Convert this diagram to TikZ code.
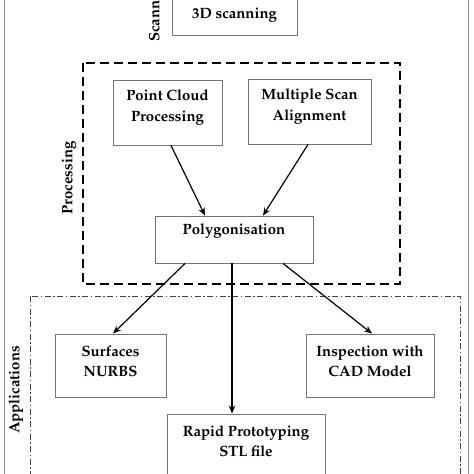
\documentclass[tikz,border=0pt]{standalone}
\usepackage[T1]{fontenc}
\usepackage{mathpazo}
\usetikzlibrary{arrows.meta}
\begin{document}
\begin{tikzpicture}[x=1pt,y=-1pt,
  box/.style={draw=black!55, line width=0.9pt, fill=white, inner sep=0pt},
  txt/.style={align=center, font=\bfseries\fontsize{14.9}{20.5}\selectfont, inner sep=0pt},
  lab/.style={rotate=90, font=\bfseries\fontsize{14.9}{17}\selectfont, inner sep=0pt},
  arr/.style={-{Stealth[length=8pt,width=6.5pt]}, line width=1.2pt},
  grp/.style={draw, line width=1.8pt, dash pattern=on 9pt off 5pt},
  app/.style={draw=black!75, line width=0.8pt, dash pattern=on 6pt off 2.5pt on 1.5pt off 2.5pt}]
\useasboundingbox (0,0) rectangle (474,474);
\clip (0,0) rectangle (474,474);
% outer frame
\draw[black!45, line width=1pt] (4,-10) rectangle (468,490);
% group frames
\draw[grp] (83,63) rectangle (400,284);
\draw[app] (30,296) rectangle (460,495);
% group labels
\node[lab, anchor=west] (lscan) at (156,42) {Scanning};
\node[lab] (lproc) at (69,178) {Processing};
\node[lab] (lapp) at (16,390) {Applications};
% boxes
\node[box, minimum width=125, minimum height=70] (scan) at (234.5,0) {};
\node[txt] (tscan) at (234.5,15) {3D scanning};
\node[box, minimum width=109, minimum height=65] (pc) at (167.5,112.5) {};
\node[txt] (tpc) at (167.5,107.5) {Point Cloud\\Processing};
\node[box, minimum width=123, minimum height=65] (ms) at (309.5,111.5) {};
\node[txt] (tms) at (309.5,106.5) {Multiple Scan\\Alignment};
\node[box, minimum width=158, minimum height=47] (poly) at (234,239.5) {};
\node[txt] (tpoly) at (234,231) {Polygonisation};
\node[box, minimum width=111, minimum height=63] (surf) at (110.5,365.5) {};
\node[txt] (tsurf) at (110.5,361) {Surfaces\\NURBS};
\node[box, minimum width=128, minimum height=63] (insp) at (370,365.5) {};
\node[txt] (tinsp) at (370,361) {Inspection with\\CAD Model};
\node[box, minimum width=158, minimum height=65] (rp) at (246,446.5) {};
\node[txt] (trp) at (246,441) {Rapid Prototyping\\STL file};
% arrows
\draw[arr] ([xshift=3.5pt]pc.south) -- ([xshift=-29pt]poly.north);
\draw[arr] ([xshift=-1.5pt]ms.south) -- ([xshift=29pt]poly.north);
\draw[arr] ([xshift=-49pt]poly.south) -- ([xshift=2.5pt]surf.north);
\draw[arr] ([xshift=-2pt]poly.south) -- ([xshift=-14pt]rp.north);
\draw[arr] ([xshift=49pt]poly.south) -- ([xshift=2pt]insp.north);
\end{tikzpicture}
\end{document}
